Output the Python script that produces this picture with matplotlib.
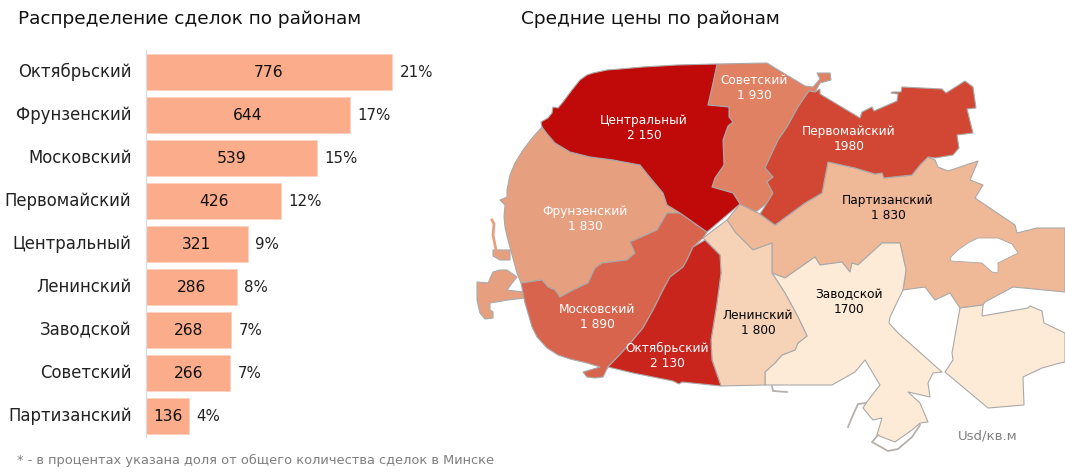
import matplotlib
matplotlib.use('Agg')
import matplotlib.pyplot as plt
from matplotlib.patches import Polygon
from matplotlib.transforms import ScaledTranslation

plt.rcParams['font.family'] = ['DejaVu Sans']

districts = ['Октябрьский','Фрунзенский','Московский','Первомайский','Центральный','Ленинский','Заводской','Советский','Партизанский']
deals = [776,644,539,426,321,286,268,266,136]
shares = ['21%','17%','15%','12%','9%','8%','7%','7%','4%']

price_labels = {
 'Центральный':'2 150','Советский':'1 930','Первомайский':'1980','Фрунзенский':'1 830',
 'Партизанский':'1 830','Московский':'1 890','Ленинский':'1 800','Заводской':'1700','Октябрьский':'2 130'}

centr = [(542,127),(541,122),(548,118),(552,113),(553,107),(558,108),(563,102),(572,90),(580,80),(587,75),(593,73),(607,70),(620,69),(643,67),(677,65),(717,64),(713,83),(708,105),(729,107),(729,117),(733,122),(728,126),(723,140),(724,165),(715,178),(712,187),(733,193),(740,204),(707,232),(680,213),(667,205),(663,193),(648,175),(640,165),(613,160),(590,157),(570,152),(555,143),(548,135)]
sovet = [(717,64),(767,63),(775,68),(805,86),(813,87),(820,79),(817,73),(830,73),(831,80),(820,83),(815,92),(809,91),(798,107),(787,127),(778,140),(772,153),(765,168),(773,177),(767,182),(773,193),(767,203),(756,212),(740,204),(733,193),(712,187),(715,178),(724,165),(723,140),(728,126),(733,122),(729,117),(729,107),(708,105),(713,83)]
perv = [(809,91),(815,92),(820,89),(820,94),(860,118),(862,112),(872,107),(874,111),(897,101),(898,94),(891,93),(892,92),(901,92),(902,87),(942,89),(946,93),(965,81),(973,87),(976,108),(967,109),(973,133),(957,135),(959,148),(953,155),(935,158),(928,157),(920,165),(912,175),(884,178),(882,173),(875,174),(855,168),(828,162),(822,193),(805,203),(775,225),(760,214),(767,203),(773,193),(767,182),(773,177),(765,168),(772,153),(778,140),(787,127),(798,107)]
partiz = [(740,204),(727,220),(735,232),(743,240),(753,250),(772,243),(772,273),(785,278),(815,257),(820,265),(842,262),(850,272),(852,263),(858,265),(882,243),(900,243),(906,270),(903,290),(925,287),(935,300),(950,293),(960,308),(983,305),(985,302),(1013,287),(1065,292),(1065,228),(1037,228),(1017,233),(1015,225),(975,198),(983,185),(970,180),(978,161),(948,171),(938,167),(935,160),(928,157),(920,165),(912,175),(884,178),(882,173),(875,174),(855,168),(828,162),(822,193),(805,203),(775,225),(760,214),(756,212)]
lake = [(950,258),(958,250),(968,243),(978,238),(998,238),(1012,244),(1018,253),(998,263),(998,273),(992,272),(982,263),(951,261)]
zavod = [(772,273),(785,278),(815,257),(820,265),(842,262),(850,272),(852,263),(858,265),(882,243),(900,243),(906,270),(903,290),(890,317),(889,323),(897,332),(942,372),(933,373),(928,383),(930,397),(908,392),(920,403),(928,422),(920,423),(912,430),(895,442),(877,435),(882,418),(873,420),(863,408),(866,403),(880,385),(865,360),(855,372),(832,385),(765,385),(765,372),(775,363),(782,355),(795,350),(798,343),(807,336),(798,317),(785,293)]
zavod_se = [(960,308),(983,305),(982,316),(1028,308),(1030,306),(1042,311),(1044,323),(1065,333),(1065,362),(1060,363),(1042,368),(1023,377),(1024,405),(988,408),(945,372),(953,360),(952,353)]
lenin = [(703,238),(727,220),(735,232),(743,240),(753,250),(772,243),(772,273),(785,293),(798,317),(807,336),(798,343),(795,350),(782,355),(775,363),(765,372),(765,385),(721,386),(712,360),(711,340),(717,303),(721,273),(720,255)]
oktyab = [(705,240),(720,255),(721,273),(717,303),(711,340),(712,360),(721,386),(682,382),(679,384),(673,381),(633,373),(608,367),(627,347),(643,328),(653,310),(663,290),(670,277),(683,267),(687,260),(693,247)]
moskov = [(630,242),(657,230),(667,213),(680,213),(707,232),(703,238),(693,247),(687,260),(683,267),(670,277),(663,290),(653,310),(643,328),(627,347),(608,367),(603,377),(595,378),(587,377),(583,372),(600,367),(587,363),(570,359),(558,355),(547,348),(537,337),(532,327),(528,313),(525,303),(521,283),(542,280),(548,287),(555,290),(560,297),(575,289),(588,283),(595,268),(602,263),(627,260),(635,253)]
frunz = [(542,127),(548,135),(555,143),(570,152),(590,157),(613,160),(640,165),(648,175),(663,193),(667,205),(680,213),(667,213),(657,230),(630,242),(635,253),(627,260),(602,263),(595,268),(588,283),(575,289),(560,297),(555,290),(548,287),(542,280),(521,283),(517,273),(508,240),(505,227),(504,217),(505,205),(500,200),(507,197),(507,190),(510,175),(515,163),(523,150),(533,137)]
frunz_w1 = [(493,250),(497,250),(510,250),(510,260),(500,260),(493,256)]
frunz_w2 = [(477,282),(488,283),(493,272),(500,270),(507,270),(517,277),(513,282),(507,290),(523,292),(525,298),(508,300),(490,303),(490,310),(493,312),(493,318),(485,319),(480,313),(477,300)]
strip_w = [(492,220),(494,224),(493,235),(496,250)]
road1 = [(866,403),(858,404),(853,415),(848,427)]
road2 = [(920,425),(912,437),(898,449),(888,451),(872,442),(878,435)]
road3 = [(772,386),(773,391),(787,392)]

COL = {'Центральный':'#C00A0A','Советский':'#E08164','Первомайский':'#D14733','Партизанский':'#EFB897',
       'Заводской':'#FEEBD7','Ленинский':'#F6D3B7','Октябрьский':'#C9251D','Московский':'#D9644D','Фрунзенский':'#E6A07F'}
map_polys = [(partiz,'Партизанский'),(zavod,'Заводской'),(zavod_se,'Заводской'),(lenin,'Ленинский'),
             (frunz,'Фрунзенский'),(frunz_w1,'Фрунзенский'),(frunz_w2,'Фрунзенский'),(moskov,'Московский'),
             (oktyab,'Октябрьский'),(sovet,'Советский'),(perv,'Первомайский'),(centr,'Центральный')]
label_pos = {'Центральный':(644,128),'Советский':(754,88),'Первомайский':(849,139),'Фрунзенский':(585,219),
             'Партизанский':(888,208),'Московский':(597,317),'Ленинский':(758,323),'Заводской':(849,302),'Октябрьский':(667,356)}
dark = {'Партизанский','Ленинский','Заводской'}

W, H = 1065, 475
fig = plt.figure(figsize=(W/100, H/100), dpi=100)
fig.patch.set_facecolor('white')

# bars
top, bottom = 50, 437
ax = fig.add_axes([146/W, 1-bottom/H, 300/W, (bottom-top)/H])
step = 43.0
ax.set_ylim((bottom-72)/step, (top-72)/step)
ax.set_xlim(0, 300/0.317)
ypos = list(range(len(districts)))
ax.barh(ypos, deals, height=0.84, color='#FBAC8B', edgecolor='#FCD3C0', linewidth=0.6)
for y, v, s in zip(ypos, deals, shares):
    ax.annotate(str(v), (v/2, y), xytext=(0, 0.9), textcoords='offset points', ha='center', va='center_baseline', fontsize=11.2, color='#111111')
    ax.annotate(s, (v, y), xytext=(7.5*0.72, 0.9), textcoords='offset points', ha='left', va='center_baseline', fontsize=10.8, color='#222222')
ax.set_yticks(ypos)
ax.set_yticklabels(districts, fontsize=11.9, color='#222222', va='center_baseline')
ax.tick_params(axis='y', length=0, pad=14.5*0.72)
up = ScaledTranslation(0, 1.7/100, fig.dpi_scale_trans)
for lab in ax.get_yticklabels():
    lab.set_transform(lab.get_transform() + up)
ax.set_xticks([])
for sp in ['top','right','bottom']:
    ax.spines[sp].set_visible(False)
ax.spines['left'].set_color('#DDDDDD')
ax.spines['left'].set_linewidth(1)

# map
m = fig.add_axes([0, 0, 1, 1])
m.set_xlim(0, W); m.set_ylim(H, 0); m.axis('off'); m.patch.set_alpha(0)
EDGE = '#A9A9A9'
for pts, name in map_polys:
    m.add_patch(Polygon(pts, closed=True, facecolor=COL[name], edgecolor=EDGE, linewidth=0.8, joinstyle='round'))
m.add_patch(Polygon(lake, closed=True, facecolor='white', edgecolor=EDGE, linewidth=0.6))
for r in (road1, road2, road3):
    m.plot(*zip(*r), color='#B5B0AA', lw=1.3)
m.plot(*zip(*strip_w), color=COL['Фрунзенский'], lw=2)
for name, (x, y) in label_pos.items():
    c = 'black' if name in dark else 'white'
    m.text(x, y, name + '\n' + price_labels[name], ha='center', va='center', fontsize=8.7, color=c, linespacing=1.2)

m.text(18, 19, 'Распределение сделок по районам', fontsize=13.3, color='#111111', va='center', ha='left')
m.text(521, 19, 'Средние цены по районам', fontsize=13.3, color='#111111', va='center', ha='left')
m.text(17, 460, '* - в процентах указана доля от общего количества сделок в Минске', fontsize=9.4, color='#7F7F7F', va='center', ha='left')
m.text(958, 436, 'Usd/кв.м', fontsize=9.5, color='#7F7F7F', va='center', ha='left')

fig.savefig('out.png', dpi=100)
